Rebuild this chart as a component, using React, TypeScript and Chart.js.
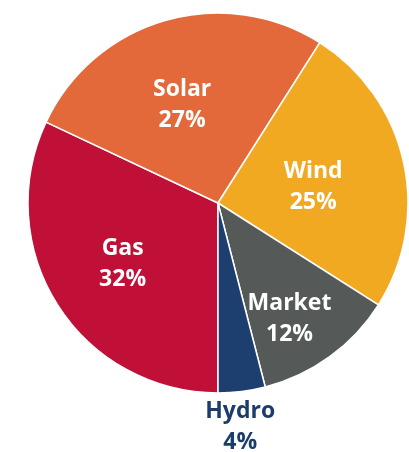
import React, { useEffect, useRef } from "react";
import { Chart, registerables } from "chart.js";

Chart.register(...registerables);

const categories = ["Gas", "Solar", "Wind", "Market", "Hydro"];
const shares = [32, 27, 25, 12, 4];
const sliceColors = ["#C11038", "#E3693A", "#F2A922", "#555A58", "#1D3F70"];
const labelColors = ["#FFFFFF", "#FFFFFF", "#FFFFFF", "#FFFFFF", "#1B3D6B"];
const labelRadiusFactor = [0.59, 0.56, 0.51, 0.71, 1.175];
const labelAngleShiftDeg = [0.7, -3.5, 1.7, 4, 1.5];

const labelPlugin = {
  id: "sliceLabels",
  afterDatasetsDraw(chart: any) {
    const meta = chart.getDatasetMeta(0);
    const ctx = chart.ctx;
    ctx.save();
    ctx.font = "bold 23px 'Open Sans', sans-serif";
    ctx.textAlign = "center";
    ctx.textBaseline = "alphabetic";
    meta.data.forEach((arc: any, i: number) => {
      const { x, y, startAngle, endAngle, outerRadius } = arc.getProps(
        ["x", "y", "startAngle", "endAngle", "outerRadius"],
        true
      );
      const mid = (startAngle + endAngle) / 2 + (labelAngleShiftDeg[i] * Math.PI) / 180;
      const r = outerRadius * labelRadiusFactor[i];
      const cx = x + Math.cos(mid) * r;
      const cy = y + Math.sin(mid) * r;
      ctx.fillStyle = labelColors[i];
      ctx.fillText(categories[i], cx, cy - 15 + 8);
      ctx.fillText(shares[i] + "%", cx, cy + 16 + 8);
    });
    ctx.restore();
  },
};

export default function App() {
  const ref = useRef<HTMLCanvasElement>(null);
  useEffect(() => {
    if (!ref.current) return;
    const chart = new Chart(ref.current, {
      type: "pie",
      data: {
        labels: categories,
        datasets: [
          {
            data: shares,
            backgroundColor: sliceColors,
            borderColor: "#FFFFFF",
            borderWidth: 1.5,
            radius: 190,
          } as any,
        ],
      },
      options: {
        animation: false,
        responsive: false,
        rotation: 180,
        layout: { padding: { left: 27, right: 0, top: 0, bottom: 46 } },
        plugins: {
          legend: { display: false },
          tooltip: { enabled: false },
        },
      },
      plugins: [labelPlugin],
    });
    return () => chart.destroy();
  }, []);
  return (
    <div style={{ position: "absolute", left: 0, top: 0, width: 409, height: 452, background: "#FFFFFF" }}>
      <canvas ref={ref} width={409} height={452} style={{ display: "block" }} />
    </div>
  );
}
